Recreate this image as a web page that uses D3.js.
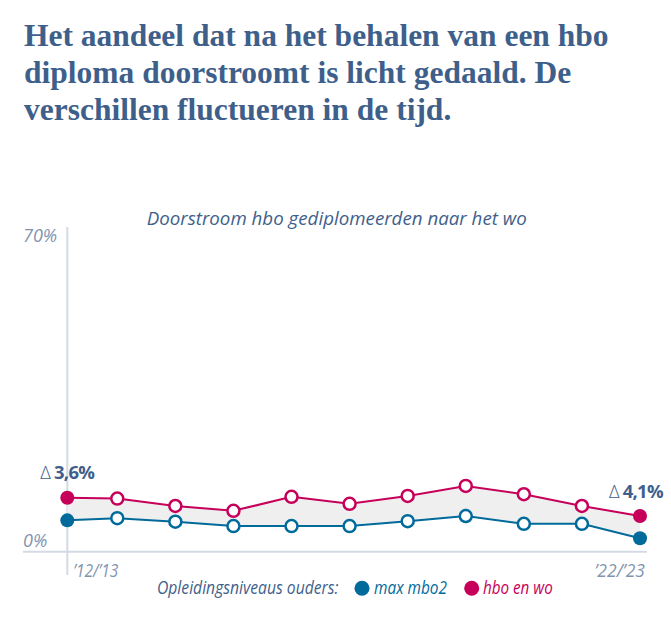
<!DOCTYPE html>
<html><head><meta charset="utf-8">
<script src="https://cdn.jsdelivr.net/npm/d3@7/dist/d3.min.js"></script>
<style>body{margin:0;background:#fff}svg{display:block}</style>
</head><body><svg id="c" width="671" height="625"></svg>
<script>
// ---- data ----
const years = ["’12/’13","’13/’14","’14/’15","’15/’16","’16/’17","’17/’18","’18/’19","’19/’20","’20/’21","’21/’22","’22/’23"];
const maxMbo2 = [7.2, 7.7, 6.9, 5.9, 5.9, 5.9, 7.0, 8.2, 6.4, 6.4, 3.1];
const hboEnWo = [12.4, 12.2, 10.5, 9.4, 12.6, 11.0, 12.8, 15.1, 13.2, 10.5, 8.2];
const yTickValues = [0, 70];
const yTickLabels = ["0%", "70%"];
const xTickLabels = ["’12/’13", "’22/’23"];
const deltaLabels = ["3,6%", "4,1%"];
const titleLines = ["Het aandeel dat na het behalen van een hbo", "diploma doorstroomt is licht gedaald. De", "verschillen fluctueren in de tijd."];
const subtitle = "Doorstroom hbo gediplomeerden naar het wo";
const legendTitle = "Opleidingsniveaus ouders:";
const seriesNames = ["max mbo2", "hbo en wo"];

// ---- style ----
const C = {blue:"#006a9b", mag:"#c6005a", title:"#3f5f8b", tick:"#8194b0", axis:"#d4dae4", band:"#efefef"};
const SANS = "'Open Sans', 'Noto Sans', sans-serif";
const svg = d3.select("#c");

// title
svg.append("g").selectAll("text").data(titleLines).join("text")
  .attr("x", 24).attr("y", (d,i) => 46 + i*37)
  .attr("font-family", "'Liberation Serif', serif").attr("font-weight", 700)
  .attr("font-size", 31.5).attr("fill", C.title).text(d => d);

// subtitle
svg.append("text").attr("x", 146.7).attr("y", 225)
  .attr("font-family", SANS).attr("font-style", "italic").attr("font-size", 19)
  .attr("fill", C.title).attr("textLength", 380).attr("lengthAdjust", "spacingAndGlyphs")
  .text(subtitle);

// scales
const axisX = 67.3;
const x = d3.scalePoint().domain(years).range([59.2, 640]);
const px = d => Math.max(x(d), axisX);
const y = d3.scaleLinear().domain([0, 70]).range([551.7, 247]);

// axes lines
svg.append("line").attr("x1", 23).attr("x2", 647).attr("y1", y(0)).attr("y2", y(0))
  .attr("stroke", C.axis).attr("stroke-width", 2);
svg.append("line").attr("x1", axisX).attr("x2", axisX).attr("y1", y(70) - 20).attr("y2", 575)
  .attr("stroke", C.axis).attr("stroke-width", 2);

// y tick labels
svg.append("g").selectAll("text").data(yTickValues).join("text")
  .attr("x", 23).attr("y", d => y(d) - 11).attr("dy", "0.36em")
  .attr("font-family", SANS).attr("font-style", "italic").attr("font-size", 18)
  .attr("fill", C.tick).text((d,i) => yTickLabels[i]);

// x tick labels
svg.append("text").attr("x", px(years[0]) + 6).attr("y", 576.5)
  .attr("font-family", SANS).attr("font-style", "italic").attr("font-size", 17.5)
  .attr("fill", C.tick).attr("textLength", 45).attr("lengthAdjust", "spacingAndGlyphs").text(xTickLabels[0]);
svg.append("text").attr("x", px(years[years.length-1]) + 5).attr("y", 576.5)
  .attr("text-anchor", "end")
  .attr("font-family", SANS).attr("font-style", "italic").attr("font-size", 17.5)
  .attr("fill", C.tick).text(xTickLabels[1]);

// band
const idx = d3.range(years.length);
svg.append("path").datum(idx)
  .attr("d", d3.area().x(i => px(years[i])).y0(i => y(maxMbo2[i])).y1(i => y(hboEnWo[i])))
  .attr("fill", C.band);

// lines & points
const series = [{v: maxMbo2, c: C.blue}, {v: hboEnWo, c: C.mag}];
series.forEach(s => {
  svg.append("path").datum(idx)
    .attr("d", d3.line().x(i => px(years[i])).y(i => y(s.v[i])))
    .attr("fill", "none").attr("stroke", s.c).attr("stroke-width", 2);
  svg.append("g").selectAll("circle").data(idx).join("circle")
    .attr("cx", i => px(years[i])).attr("cy", i => y(s.v[i]))
    .attr("r", i => (i === 0 || i === years.length-1) ? 7 : 6)
    .attr("fill", i => (i === 0 || i === years.length-1) ? s.c : "#fff")
    .attr("stroke", s.c).attr("stroke-width", i => (i === 0 || i === years.length-1) ? 0 : 2.5);
});

// delta labels
[0, years.length-1].forEach((i, k) => {
  const t = svg.append("text").attr("x", px(years[i]) - (k ? 4 : 0)).attr("y", y(hboEnWo[i]) - 25)
    .attr("dy", "0.36em").attr("text-anchor", "middle")
    .attr("font-family", SANS).attr("font-size", 18.5).attr("fill", C.title);
  t.append("tspan").attr("font-weight", 300).text("Δ");
  t.append("tspan").attr("font-weight", 700).attr("dx", 3).attr("letter-spacing", -0.7).text(deltaLabels[k]);
});

// legend
const lg = svg.append("g").attr("font-family", SANS).attr("font-style", "italic").attr("font-size", 17.5);
lg.append("text").attr("x", 157).attr("y", 594).attr("fill", C.title)
  .attr("textLength", 181.5).attr("lengthAdjust", "spacingAndGlyphs").text(legendTitle);
const legendPos = [{cx: 362, tx: 374, w: 73}, {cx: 471.7, tx: 483, w: 69.7}];
series.forEach((s, k) => {
  lg.append("circle").attr("cx", legendPos[k].cx).attr("cy", 588.3).attr("r", 7.5).attr("fill", s.c);
  lg.append("text").attr("x", legendPos[k].tx).attr("y", 594).attr("fill", s.c)
    .attr("textLength", legendPos[k].w).attr("lengthAdjust", "spacingAndGlyphs").text(seriesNames[k]);
});
</script></body></html>
